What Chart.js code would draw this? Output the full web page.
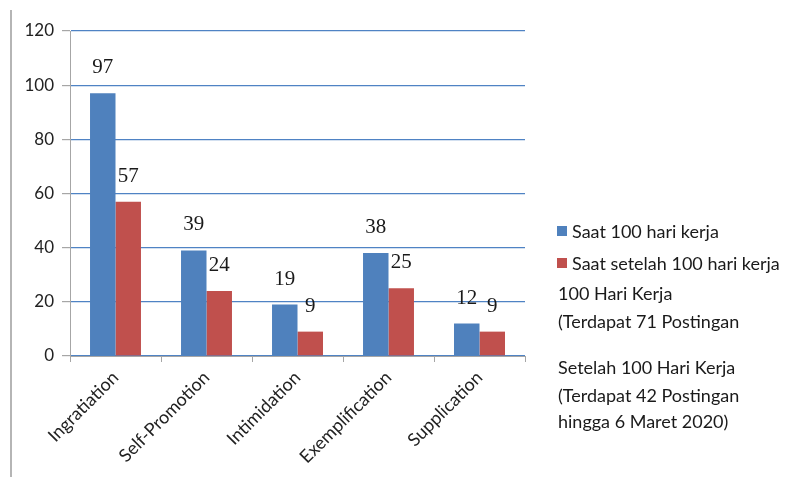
<!DOCTYPE html>
<html>
<head>
<meta charset="utf-8">
<title>Impression Management</title>
<script src="https://cdn.jsdelivr.net/npm/chart.js@4.4.0/dist/chart.umd.min.js"></script>
<style>
	body{
		margin: 0;
		background-color: #fff;
	}
	#wrap{
		position: relative;
		width: 790px;
		height: 477px;
	}
	#frame{
		position: absolute;
		left: 10px;
		top: 10px;
		bottom: 0;
		border-left: 2px solid #b5b5b5;
	}
	.line{
		position: absolute;
		height: 28px;
		line-height: 28px;
		font-family: Lato, sans-serif;
		font-size: 18px;
		color: #1a1a1a;
		white-space: nowrap;
	}
	.box{
		position: absolute;
		width: 10px;
		height: 10px;
	}
</style>
</head>
<body>
<div id="wrap">
	<div id="frame"></div>
	<canvas id="myChart" width="790" height="477"></canvas>
	<div id="legend"></div>
</div>

<script>
	// values
	var categories = ['Ingratiation', 'Self-Promotion', 'Intimidation', 'Exemplification', 'Supplication'];
	var seriesNames = ['Saat 100 hari kerja', 'Saat setelah 100 hari kerja'];
	var before100 = [97, 39, 19, 38, 12];
	var after100 = [57, 24, 9, 25, 9];
	var yMin = 0, yMax = 120, yStep = 20;
	var notes = ['100 Hari Kerja', '(Terdapat 71 Postingan', 'Setelah 100 Hari Kerja', '(Terdapat 42 Postingan', 'hingga 6 Maret 2020)'];

	var colors = ['#4f81bd', '#c0504d'];

	// numbers above the bars
	var barLabels = {
		id: 'barLabels',
		afterDatasetsDraw: function(chart){
			var ctx = chart.ctx;
			ctx.save();
			ctx.font = '21px "Liberation Serif", serif';
			ctx.fillStyle = '#1a1a1a';
			ctx.textAlign = 'center';
			ctx.textBaseline = 'alphabetic';
			chart.data.datasets.forEach(function(ds, i){
				chart.getDatasetMeta(i).data.forEach(function(bar, j){
					ctx.fillText(ds.data[j], bar.x, bar.y - 20);
				});
			});
			ctx.restore();
		}
	};

	var chart = new Chart(document.getElementById('myChart'), {
		type: 'bar',
		data: {
			labels: categories,
			datasets: [
				{label: seriesNames[0], data: before100, backgroundColor: colors[0], categoryPercentage: 0.56, barPercentage: 1},
				{label: seriesNames[1], data: after100, backgroundColor: colors[1], categoryPercentage: 0.56, barPercentage: 1}
			]
		},
		options: {
			responsive: false,
			animation: false,
			layout: {padding: {left: 0, top: 31, right: 265, bottom: 0}},
			plugins: {
				legend: {display: false},
				tooltip: {enabled: false}
			},
			scales: {
				x: {
					grid: {drawOnChartArea: false, color: '#a6a6a6', tickLength: 6, offset: true},
					border: {color: '#a6a6a6'},
					ticks: {
						font: {family: 'Lato', size: 18},
						color: '#222',
						minRotation: 45,
						maxRotation: 45,
						padding: 5
					},
					afterFit: function(s){ s.height = 121; }
				},
				y: {
					min: yMin,
					max: yMax,
					grid: {color: '#4f83c4', tickColor: '#a6a6a6', tickLength: 8, lineWidth: 1.2},
					border: {color: '#a6a6a6'},
					ticks: {
						stepSize: yStep,
						font: {family: 'Lato', size: 17},
						color: '#222',
						padding: 8
					},
					afterFit: function(s){ s.width = 70; }
				}
			}
		},
		plugins: [barLabels]
	});

	// legend and notes on the right
	var legend = document.getElementById('legend');
	var html = '';
	var itemY = [231, 263];
	seriesNames.forEach(function(name, i){
		html += '<div class="box" style="left:557px;top:' + (itemY[i] - 5) + 'px;background:' + colors[i] + '"></div>';
		html += '<div class="line" style="left:572px;top:' + (itemY[i] - 14) + 'px">' + name + '</div>';
	});
	var noteY = [293, 321, 367, 395, 421];
	notes.forEach(function(t, i){
		html += '<div class="line" style="left:558px;top:' + (noteY[i] - 14) + 'px">' + t + '</div>';
	});
	legend.innerHTML = html;
</script>
</body>
</html>
